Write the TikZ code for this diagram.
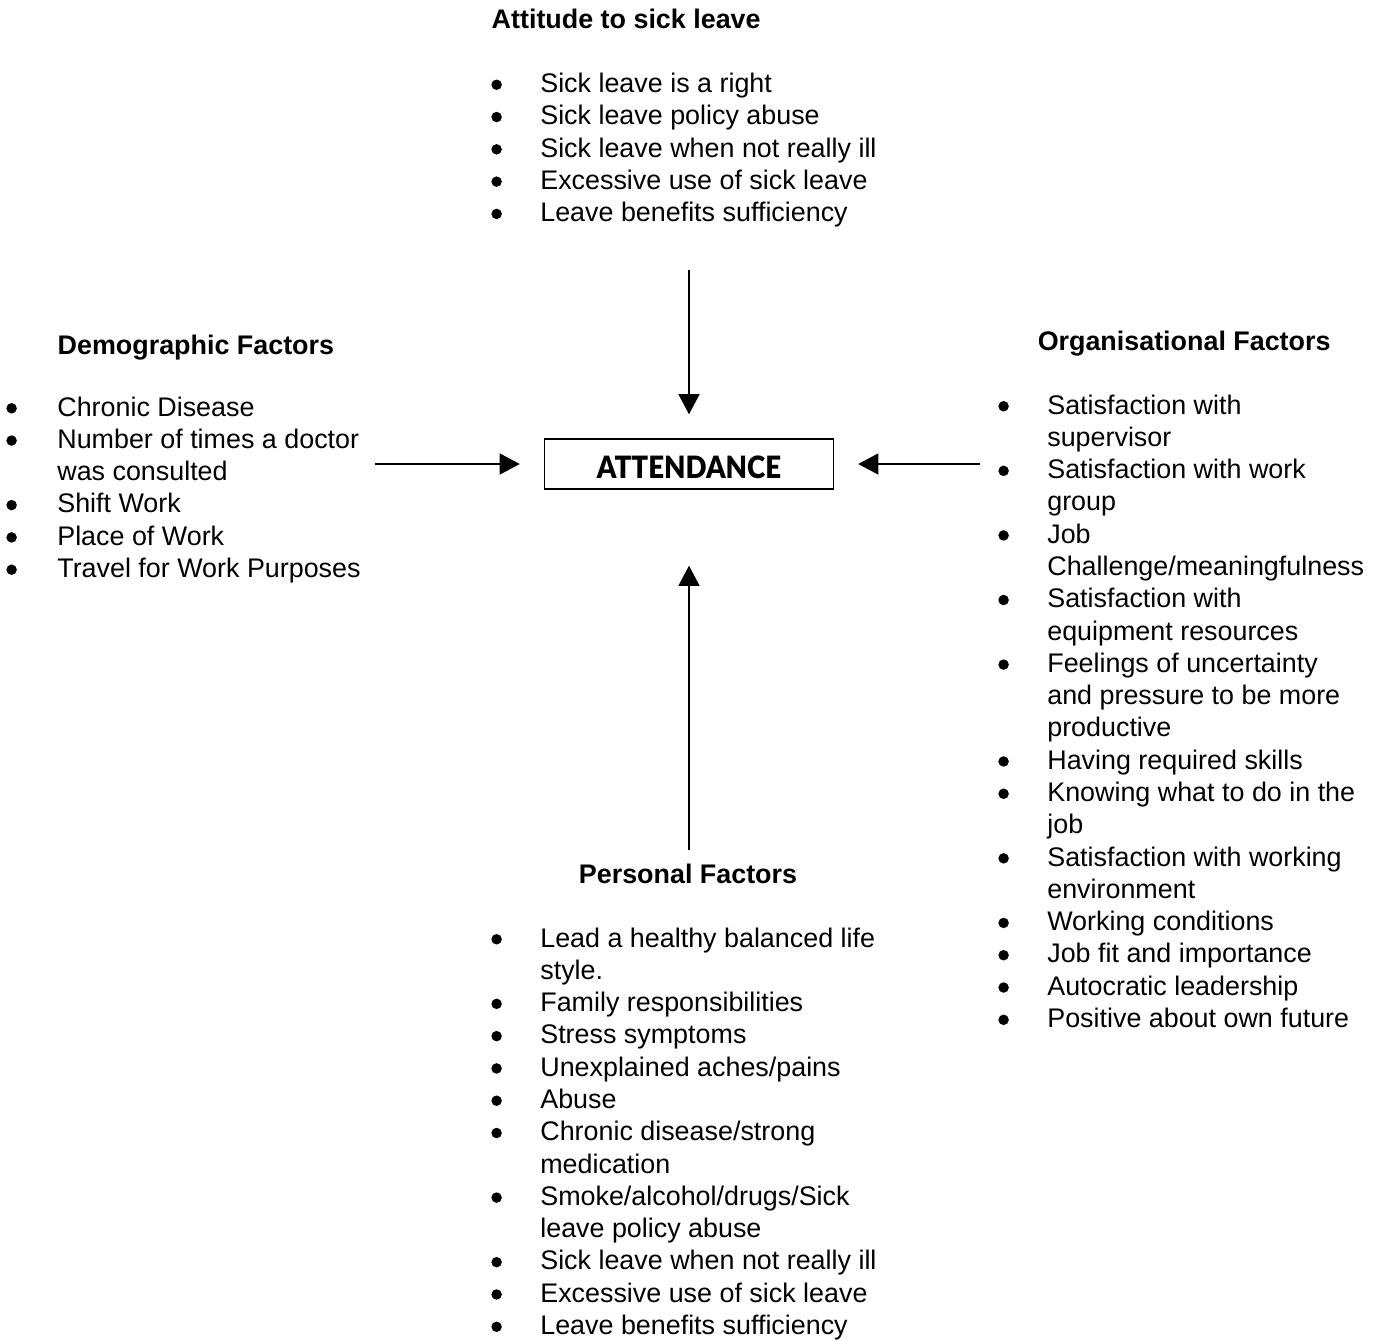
\documentclass[tikz,border=0pt]{standalone}
\usepackage{fontspec}
\setmainfont{Liberation Sans}
\newfontfamily\boxfont{Lato Black}
\usepackage{tikz}
\usetikzlibrary{arrows.meta,positioning}

\newcommand{\bul}{\tikz[baseline=0pt]\fill (0.12cm,0.155cm) circle (0.105cm);}
\newcommand{\factorlist}[2][0.98cm]{\begin{tabular}[t]{@{}p{#1}@{}l@{}}#2\end{tabular}}

\begin{document}
\begin{tikzpicture}[x=0.02cm, y=-0.02cm, line width=0.85pt,
  every node/.style={inner sep=0pt, font=\fontsize{15.3}{18.38}\selectfont},
  head/.style={anchor=base west, font=\fontsize{15.3}{18.38}\selectfont\bfseries},
  list/.style={anchor=base west},
  flow/.style={-{Triangle[length=11.5pt,width=12pt]}, shorten >=0.48cm}]
  \useasboundingbox (0,0) rectangle (1377,1340);

  \node[draw, minimum width=5.78cm, minimum height=1cm,
    font=\boxfont\fontsize{17.5}{17.5}\selectfont] (attend) at (689,464)
    {\raisebox{-0.06cm}[\height][0pt]{\scalebox{0.9}[1]{ATTENDANCE}}};

  \node[head] (atthead) at (491,28) {Attitude to sick leave};
  \node[list] (att) at (491,92.5) {\factorlist{
    \bul & Sick leave is a right\\
    \bul & Sick leave policy abuse\\
    \bul & Sick leave when not really ill\\
    \bul & Excessive use of sick leave\\
    \bul & Leave benefits sufficiency}};

  \node[head] (demhead) at (57,354) {Demographic Factors};
  \node[list] (dem) at (6,416) {\factorlist[1.02cm]{
    \bul & Chronic Disease\\
    \bul & Number of times a doctor\\
         & was consulted\\
    \bul & Shift Work\\
    \bul & Place of Work\\
    \bul & Travel for Work Purposes}};

  \node[head] (orghead) at (1037,350) {Organisational Factors};
  \node[list] (org) at (998,414) {\factorlist{
    \bul & Satisfaction with\\
         & supervisor\\
    \bul & Satisfaction with work\\
         & group\\
    \bul & Job\\
         & Challenge/meaningfulness\\
    \bul & Satisfaction with\\
         & equipment resources\\
    \bul & Feelings of uncertainty\\
         & and pressure to be more\\
         & productive\\
    \bul & Having required skills\\
    \bul & Knowing what to do in the\\
         & job\\
    \bul & Satisfaction with working\\
         & environment\\
    \bul & Working conditions\\
    \bul & Job fit and importance\\
    \bul & Autocratic leadership\\
    \bul & Positive about own future}};

  \node[head, anchor=base] (pershead) at (688,883) {Personal Factors};
  \node[list] (pers) at (491,947) {\factorlist{
    \bul & Lead a healthy balanced life\\
         & style.\\
    \bul & Family responsibilities\\
    \bul & Stress symptoms\\
    \bul & Unexplained aches/pains\\
    \bul & Abuse\\
    \bul & Chronic disease/strong\\
         & medication\\
    \bul & Smoke/alcohol/drugs/Sick\\
         & leave policy abuse\\
    \bul & Sick leave when not really ill\\
    \bul & Excessive use of sick leave\\
    \bul & Leave benefits sufficiency}};

  \coordinate (fromatt) at (689,270);
  \coordinate (fromdem) at (375,464);
  \coordinate (fromorg) at (980,464);
  \coordinate (frompers) at (689,850);
 \path[flow]
  (fromatt) edge (attend)
  (fromdem) edge (attend)
  (fromorg) edge (attend)
  (frompers) edge[shorten >=1.52cm] (attend);
\end{tikzpicture}
\end{document}
